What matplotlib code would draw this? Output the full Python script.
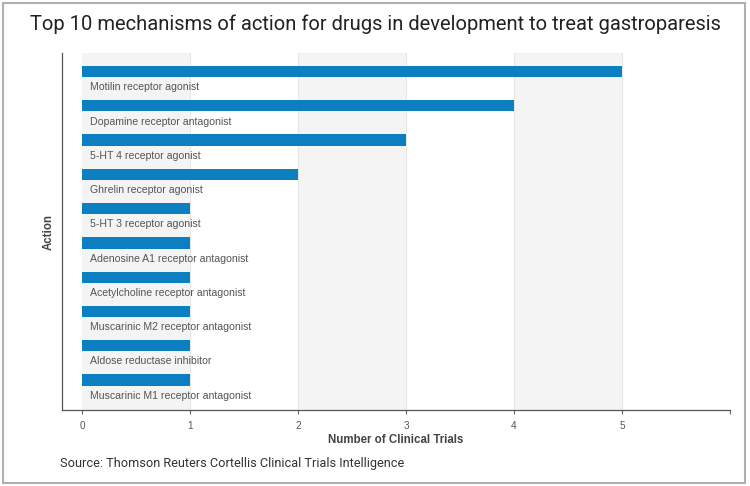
import matplotlib
matplotlib.use("Agg")
import matplotlib.pyplot as plt
from matplotlib.patches import Rectangle

categories = ["Motilin receptor agonist", "Dopamine receptor antagonist", "5-HT 4 receptor agonist",
              "Ghrelin receptor agonist", "5-HT 3 receptor agonist", "Adenosine A1 receptor antagonist",
              "Acetylcholine receptor antagonist", "Muscarinic M2 receptor antagonist",
              "Aldose reductase inhibitor", "Muscarinic M1 receptor antagonist"]
values = [5, 4, 3, 2, 1, 1, 1, 1, 1, 1]
xticks = [0, 1, 2, 3, 4, 5, 6]
xticklabels = ["0", "1", "2", "3", "4", "5", ""]

fig = plt.figure(figsize=(7.5, 4.86), dpi=100)
W, H = 750, 486
ax = fig.add_axes([62 / W, 1 - 410 / H, (730 - 62) / W, (410 - 53) / H])

# outer frame
fig.patches.append(Rectangle((3 / W, 3 / H), 742 / W, 480 / H, transform=fig.transFigure,
                             fill=False, edgecolor="#b0b0b0", linewidth=1.5))

# alternating bands
for x0 in range(0, 6):
    if x0 % 2 == 0:
        ax.axvspan(x0, x0 + 1, color="#f4f4f4", zorder=0, lw=0)
for x0 in range(1, 7):
    ax.axvline(x0, color="#e6e6e6", lw=0.8, zorder=0.5)

ypos = list(range(len(categories)))
ax.barh(ypos, values, height=0.33, color="#0b7fc0", zorder=2)
for y, lab in zip(ypos, categories):
    ax.text(0.075, y + 0.46, lab, fontsize=7.6, color="#555555", va="center", ha="left",
            family="Liberation Sans", zorder=3)

ax.set_xlim(-0.185, 6.0)
ax.set_ylim(9.875, -0.54)
ax.set_yticks([])
ax.set_xticks(xticks)
ax.set_xticklabels(xticklabels, fontsize=7.2, color="#555555", family="Liberation Sans")
ax.tick_params(axis="x", length=3, color="#666666", width=0.8, pad=5)
for s in ["top", "right"]:
    ax.spines[s].set_visible(False)
for s in ["left", "bottom"]:
    ax.spines[s].set_color("#555555")
    ax.spines[s].set_linewidth(0.9)
ax.set_facecolor("white")

ax.set_xlabel("Number of Clinical Trials", fontsize=8.3, fontweight="bold", color="#444444",
              family="Liberation Sans", labelpad=2)
ax.set_ylabel("Action", fontsize=8.3, fontweight="bold", color="#444444",
              family="Liberation Sans", labelpad=5)

fig.text(375 / W, 1 - 24 / H, "Top 10 mechanisms of action for drugs in development to treat gastroparesis",
         ha="center", va="center", fontsize=14.5, color="#222222", family="Roboto", fontstretch="condensed")
fig.text(60 / W, 1 - 463 / H, "Source: Thomson Reuters Cortellis Clinical Trials Intelligence",
         ha="left", va="center", fontsize=9.2, color="#333333", family="Roboto")

fig.savefig("out.png", dpi=100)
